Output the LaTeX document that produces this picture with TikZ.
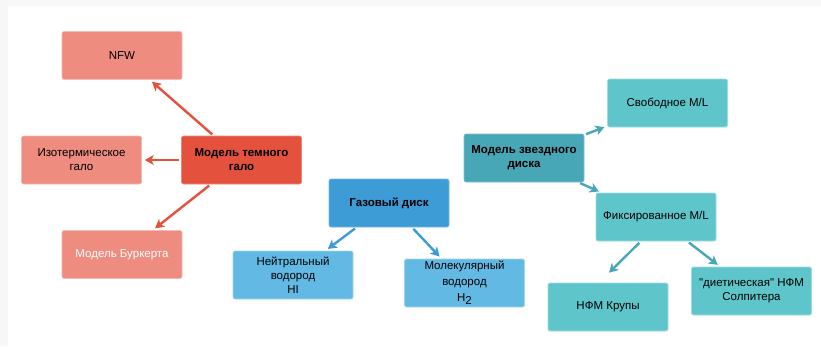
\documentclass[tikz,border=0pt]{standalone}
\usepackage{fontspec}
\setmainfont{Liberation Sans}[Ligatures=TeXOff]
\usepackage{tikz}
\usetikzlibrary{arrows.meta,calc}

\definecolor{halodark}{HTML}{E4523E}
\definecolor{halolight}{HTML}{EF8C80}
\definecolor{gasdark}{HTML}{3D9BD6}
\definecolor{gaslight}{HTML}{62B9E4}
\definecolor{stardark}{HTML}{47A7B6}
\definecolor{starlight}{HTML}{5EC6CA}

\tikzset{
	box/.style={rectangle, rounded corners=2pt, minimum width=120pt, minimum height=48pt,
		inner sep=1pt, align=center, font=\fontsize{11.5}{14}\selectfont, line width=0.6pt},
	hub/.style={box, font=\fontsize{11.5}{14}\selectfont\bfseries},
	arr/.style={line width=2.4pt, -{Stealth[length=9pt,width=10pt,inset=2.5pt]}, shorten <=2pt, shorten >=3pt},
}

\begin{document}
\begin{tikzpicture}[x=1pt,y=-1pt]
		%%%%% START %%%%%
		
		\useasboundingbox (0, 0) rectangle (821, 346);
		\fill[black!3] (0, 0) rectangle (821, 346);
		\fill[white] (8, 6) rectangle (821, 346);
		
		% dark halo
		\node[hub, fill=halodark, draw=halodark!70!white] (halo) at (241.5, 160) {Модель темного\\гало};
		\node[box, fill=halolight, draw=halolight!60!white] (nfw) at (122, 55.5) {NFW};
		\node[box, fill=halolight, draw=halolight!60!white] (iso) at (81.5, 160) {Изотермическое\\гало};
		\node[box, fill=halolight, draw=halolight!60!white, text=white] (burk) at (122, 254.5) {Модель Буркерта};
		
		\draw[arr, color=halodark] (halo) -- (nfw);
		\draw[arr, color=halodark] (halo) -- (iso);
		\draw[arr, color=halodark] (halo) -- (burk);
		
		% gas disk
		\node[hub, fill=gasdark, draw=gasdark!70!white] (gas) at (389, 203) {Газовый диск};
		\node[box, fill=gaslight, draw=gaslight!60!white] (hi) at (293, 275) {Нейтральный\\водород\\HI};
		\node[box, fill=gaslight, draw=gaslight!60!white, font=\fontsize{11.5}{16}\selectfont] (htwo) at (464.5, 283) {Молекулярный\\водород\\H\raisebox{-3pt}{2}};
		
		\draw[arr, color=gasdark] (gas) -- (hi);
		\draw[arr, color=gasdark] (gas) -- (htwo);
		
		% stellar disk
		\node[hub, fill=stardark, draw=stardark!70!white] (star) at (524, 158) {Модель звездного\\диска};
		\node[box, fill=starlight, draw=starlight!60!white] (free) at (667.5, 103) {Свободное M/L};
		\node[box, fill=starlight, draw=starlight!60!white] (fixed) at (656, 217) {Фиксированное M/L};
		\node[box, fill=starlight, draw=starlight!60!white] (krupa) at (608, 307) {НФМ Крупы};
		\node[box, fill=starlight, draw=starlight!60!white] (diet) at (751.5, 291) {"диетическая" НФМ\\Солпитера};
		
		\draw[arr, color=stardark] (star) -- (free);
		\draw[arr, color=stardark] (star) -- (fixed);
		\draw[arr, color=stardark, shorten >=0pt] (fixed.238) -- ($(krupa.north)+(1, -10)$);
		\draw[arr, color=stardark] (fixed) -- (diet);
		
		%%%%% END %%%%%
	\end{tikzpicture}
\end{document}
